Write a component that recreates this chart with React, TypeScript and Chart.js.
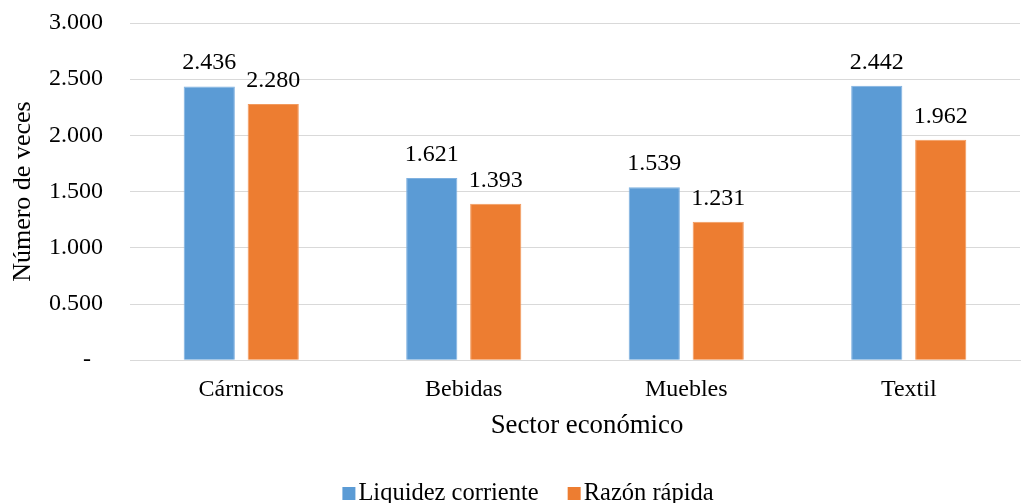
import React, { useEffect, useRef } from "react";
import { Chart, registerables } from "chart.js";

Chart.register(...registerables);

const categories = ["Cárnicos", "Bebidas", "Muebles", "Textil"];
const liquidezCorriente = [2.436, 1.621, 1.539, 2.442];
const razonRapida = [2.28, 1.393, 1.231, 1.962];
const seriesNames = ["Liquidez corriente", "Razón rápida"];
const seriesColors = ["#5B9BD5", "#ED7D31"];
const yTitle = "Número de veces";
const xTitle = "Sector económico";

const FONT = "'Liberation Serif', 'Times New Roman', serif";

const valueLabels = {
  id: "valueLabels",
  afterDatasetsDraw(chart: any) {
    const ctx = chart.ctx;
    ctx.save();
    ctx.font = `24px ${FONT}`;
    ctx.fillStyle = "#000";
    ctx.textAlign = "center";
    ctx.textBaseline = "alphabetic";
    chart.data.datasets.forEach((ds: any, i: number) => {
      const meta = chart.getDatasetMeta(i);
      meta.data.forEach((bar: any, j: number) => {
        const v = ds.data[j] as number;
        ctx.fillText(v.toFixed(3), bar.x, bar.y - 17);
      });
    });
    ctx.restore();
  },
};

const xTitlePlugin = {
  id: "xTitlePlugin",
  afterDraw(chart: any) {
    const ctx = chart.ctx;
    const area = chart.chartArea;
    ctx.save();
    ctx.font = `26.8px ${FONT}`;
    ctx.fillStyle = "#000";
    ctx.textAlign = "center";
    ctx.textBaseline = "alphabetic";
    ctx.fillText(xTitle, (area.left + area.right) / 2 + 12, 433);
    ctx.restore();
  },
};

const customLegend = {
  id: "customLegend",
  afterDraw(chart: any) {
    const ctx = chart.ctx;
    ctx.save();
    ctx.font = `24.5px ${FONT}`;
    ctx.textBaseline = "alphabetic";
    ctx.textAlign = "left";
    const box = 13;
    const gapBoxText = 3;
    const gapItems = 29;
    const items = chart.data.datasets.map((ds: any) => ({
      label: ds.label as string,
      color: ds.backgroundColor as string,
      w: ctx.measureText(ds.label).width,
    }));
    const total =
      items.reduce((s: number, it: any) => s + box + gapBoxText + it.w, 0) +
      gapItems * (items.length - 1);
    let x = (chart.width - total) / 2 + 14;
    const baseline = 500;
    items.forEach((it: any) => {
      ctx.fillStyle = it.color;
      ctx.fillRect(x, 487, box, box);
      x += box + gapBoxText;
      ctx.fillStyle = "#000";
      ctx.fillText(it.label, x, baseline);
      x += it.w + gapItems;
    });
    ctx.restore();
  },
};

export default function App() {
  const ref = useRef<HTMLCanvasElement>(null);
  useEffect(() => {
    document.body.style.margin = "0";
    const chart = new Chart(ref.current!, {
      type: "bar",
      data: {
        labels: categories,
        datasets: [
          {
            label: seriesNames[0],
            data: liquidezCorriente,
            backgroundColor: seriesColors[0],
            borderColor: "#7FB1E0",
            borderWidth: 1,
            barPercentage: 0.8,
            categoryPercentage: 0.575,
          },
          {
            label: seriesNames[1],
            data: razonRapida,
            backgroundColor: seriesColors[1],
            borderColor: "#F29A5E",
            borderWidth: 1,
            barPercentage: 0.8,
            categoryPercentage: 0.575,
          },
        ],
      },
      options: {
        responsive: false,
        animation: false,
        layout: { padding: { top: 23, right: 8, left: 6, bottom: 84 } },
        plugins: {
          legend: { display: false },
          tooltip: { enabled: false },
        },
        scales: {
          x: {
            grid: { display: false, drawTicks: false },
            border: { display: true, color: "#d9d9d9" },
            ticks: { font: { family: FONT, size: 24 }, color: "#000", padding: 15 },
            title: { display: false, text: xTitle },
          },
          y: {
            min: 0,
            max: 3,
            grid: { color: "#d9d9d9", drawTicks: false },
            border: { display: false },
            afterFit: (scale: any) => {
              scale.width = 124;
              scale.paddingTop = 0;
              scale.paddingBottom = 0;
            },
            ticks: {
              stepSize: 0.5,
              font: { family: FONT, size: 24 },
              color: "#000",
              padding: 27,
              callback: (v: any) => (Number(v) === 0 ? "-  " : Number(v).toFixed(3)),
            },
            title: {
              display: true,
              text: yTitle,
              font: { family: FONT, size: 26 },
              color: "#000",
              padding: { top: 2, bottom: 0 },
            },
          },
        },
      },
      plugins: [valueLabels, xTitlePlugin, customLegend],
    });
    return () => chart.destroy();
  }, []);
  return <canvas ref={ref} width={1028} height={503} style={{ display: "block" }} />;
}
